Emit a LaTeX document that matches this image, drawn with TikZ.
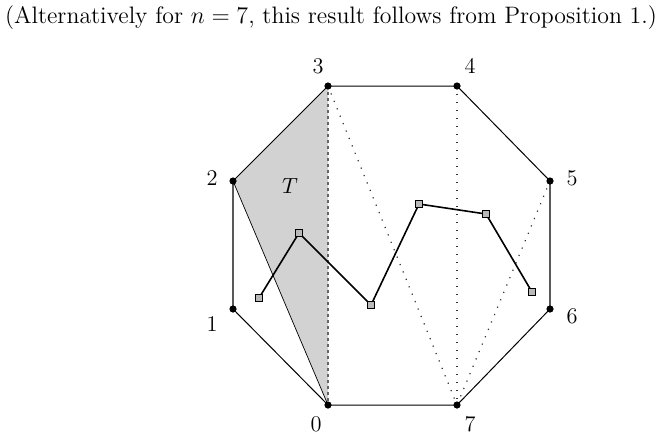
\documentclass[tikz,border=0pt]{standalone}
\begin{document}
\begin{tikzpicture}[x=0.5pt,y=-0.5pt,
  every node/.style={font=\fontsize{11.2pt}{14pt}\selectfont},
  vdot/.style={circle,fill=black,inner sep=0pt,minimum size=3.6pt},
  sq/.style={draw=black,fill=gray!55,line width=0.5pt,inner sep=0pt,minimum size=3.8pt},
  edge/.style={line width=0.5pt},
  gedge/.style={line width=0.6pt,draw=gray!70!black},
  dotl/.style={line width=0.6pt,dash pattern=on 0.6pt off 3.4pt,draw=gray!40!black},
  lbl/.style={inner sep=0pt}]
\useasboundingbox (0,0) rectangle (663,436);
\node[lbl,font=\fontsize{11.9pt}{14pt}\selectfont] (cap) at (331,18) {(Alternatively for $n=7$, this result follows from Proposition 1.)};
\coordinate (v3) at (328,86);
\coordinate (v4) at (457,86);
\coordinate (v5) at (550,181);
\coordinate (v6) at (550,309);
\coordinate (v7) at (457,405);
\coordinate (v0) at (328,405);
\coordinate (v1) at (233,309);
\coordinate (v2) at (233,181);
\fill[gray!35] (v3) -- (v2) -- (v0) -- cycle;
\draw[edge] (v3) -- (v2);
\draw[line width=0.35pt] (v2) -- (v0);
\draw[line width=0.6pt,draw=gray!80!black,dash pattern=on 1.5pt off 1.5pt] (v3) -- (v0);
\draw[dotl] (v3) -- (v7);
\draw[dotl] (v4) -- (v7);
\draw[dotl] (v5) -- (v7);
\draw[edge] (v3) -- (v4) -- (v5);
\draw[gedge] (v5) -- (v6);
\draw[edge] (v6) -- (v7) -- (v0) -- (v1);
\draw[gedge] (v1) -- (v2);
\foreach \v in {v0,v1,v2,v3,v4,v5,v6,v7} \node[vdot] at (\v) {};
\node[lbl] (l3) at (318,66) {3};
\node[lbl] (l4) at (470,66) {4};
\node[lbl] (l2) at (212,178) {2};
\node[lbl] (l5) at (572,178) {5};
\node[lbl] (l1) at (212,324) {1};
\node[lbl] (l6) at (572,316) {6};
\node[lbl] (l0) at (316,424) {0};
\node[lbl] (l7) at (470,424) {7};
\node[lbl] (T) at (290,186) {$T$};
\node[sq] (s1) at (259,298) {};
\node[sq] (s2) at (299,233) {};
\node[sq] (s3) at (371,305) {};
\node[sq] (s4) at (419,204) {};
\node[sq] (s5) at (486,214) {};
\node[sq] (s6) at (532,292) {};
\draw[line width=0.8pt] (s1.center) -- (s2.center) -- (s3.center) -- (s4.center) -- (s5.center) -- (s6.center);
\foreach \s in {s1,s2,s3,s4,s5,s6} \node[sq] at (\s) {};
\end{tikzpicture}
\end{document}
